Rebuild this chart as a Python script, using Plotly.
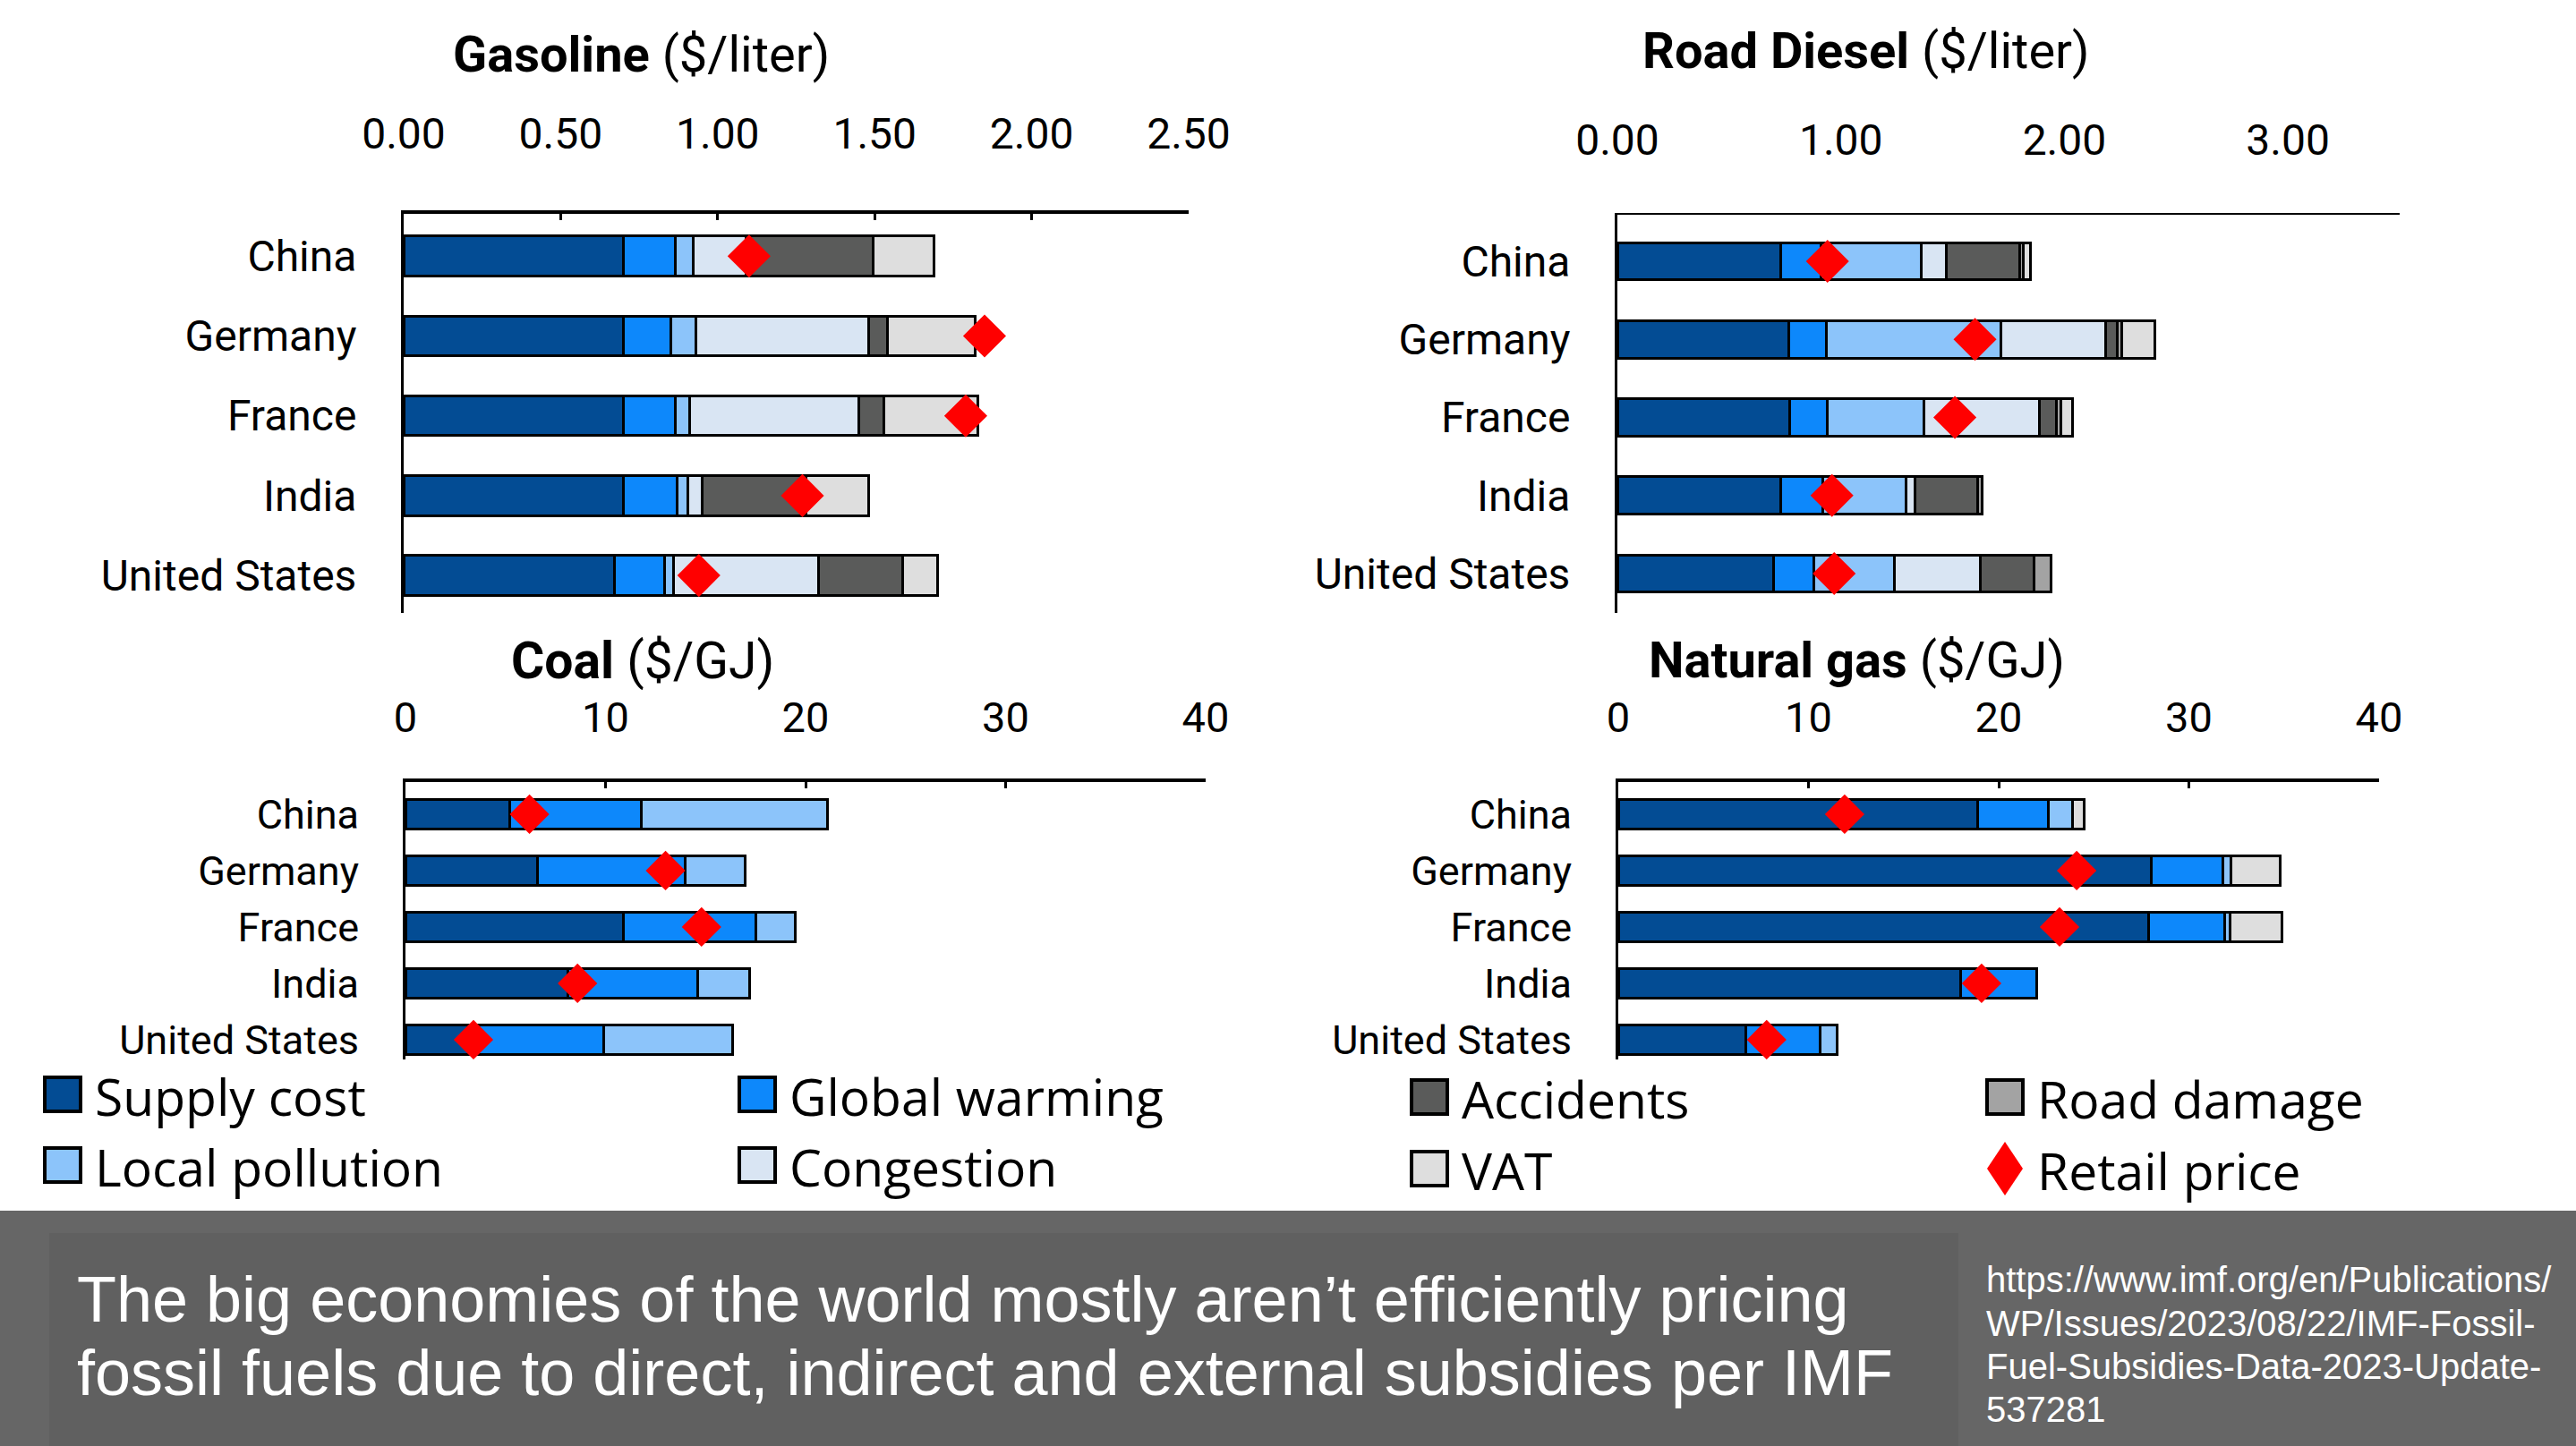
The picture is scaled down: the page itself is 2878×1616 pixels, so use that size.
import plotly.graph_objects as go

W, H = 2878, 1616

countries = ["China", "Germany", "France", "India", "United States"]
component_names = ["Supply cost", "Global warming", "Local pollution", "Congestion",
                   "Accidents", "Road damage", "VAT"]
component_colors = ["#034C94", "#0D88FB", "#8CC4FA", "#D9E5F3", "#5A5B5A", "#A3A3A3", "#DEDEDE"]

# ---- Gasoline ($/liter) ----
gasoline_supply = [0.70, 0.70, 0.70, 0.70, 0.67]
gasoline_warming = [0.165, 0.15, 0.165, 0.17, 0.16]
gasoline_pollution = [0.057, 0.08, 0.045, 0.035, 0.03]
gasoline_congestion = [0.168, 0.55, 0.54, 0.045, 0.46]
gasoline_accidents = [0.405, 0.06, 0.08, 0.33, 0.27]
gasoline_road = [0, 0, 0, 0, 0]
gasoline_vat = [0.193, 0.28, 0.30, 0.20, 0.11]
gasoline_retail = [1.10, 1.85, 1.79, 1.27, 0.94]

# ---- Road diesel ($/liter) ----
diesel_supply = [0.73, 0.765, 0.77, 0.73, 0.70]
diesel_warming = [0.18, 0.17, 0.17, 0.19, 0.18]
diesel_pollution = [0.45, 0.78, 0.43, 0.37, 0.36]
diesel_congestion = [0.11, 0.47, 0.52, 0.04, 0.385]
diesel_accidents = [0.33, 0.05, 0.075, 0.28, 0.24]
diesel_road = [0.015, 0.02, 0.02, 0.02, 0.075]
diesel_vat = [0.035, 0.15, 0.05, 0, 0]
diesel_retail = [0.94, 1.60, 1.51, 0.96, 0.97]

# ---- Coal ($/GJ) ----
coal_supply = [5.2, 6.6, 10.9, 8.1, 3.3]
coal_warming = [6.6, 7.4, 6.6, 6.5, 6.6]
coal_pollution = [9.3, 3.0, 2.0, 2.6, 6.45]
coal_retail = [6.2, 13.0, 14.8, 8.6, 3.4]

# ---- Natural gas ($/GJ) ----
gas_supply = [18.9, 28.0, 27.9, 18.0, 6.7]
gas_warming = [3.7, 3.8, 4.0, 4.0, 3.9]
gas_pollution = [1.3, 0.4, 0.25, 0, 0.9]
gas_vat = [0.6, 2.6, 2.75, 0, 0]
gas_retail = [11.9, 24.1, 23.2, 19.1, 7.8]

gasoline_tick_labels = ["0.00", "0.50", "1.00", "1.50", "2.00", "2.50"]
diesel_tick_labels = ["0.00", "1.00", "2.00", "3.00"]
energy_tick_labels = ["0", "10", "20", "30", "40"]

NARROW = "Roboto, Liberation Sans, sans-serif"
LEGEND_FONT = "Open Sans, Noto Sans, sans-serif"


def fx(p):
    return p / W


def fy(p):
    return 1 - p / H


panels = [
    dict(key="1", title="<b>Gasoline</b> ($/liter)", tcx=716, tcy=61, tsize=56,
         xdom=(451, 1328), ydom=(239, 685), xrange=[0, 2.5],
         tickvals=[0, 0.5, 1, 1.5, 2, 2.5], ticktext=gasoline_tick_labels,
         yrange=[4.47, -0.53], linew=4, ticks="inside", bw=0.5, tsz=48, lsz=48,
         comps=[gasoline_supply, gasoline_warming, gasoline_pollution, gasoline_congestion,
                gasoline_accidents, gasoline_road, gasoline_vat],
         retail=gasoline_retail, dsize=37, xstand=50),
    dict(key="2", title="<b>Road Diesel</b> ($/liter)", tcx=2085, tcy=57, tsize=56,
         xdom=(1807, 2681), ydom=(240, 685), xrange=[0, 3.5],
         tickvals=[0, 1, 2, 3], ticktext=diesel_tick_labels,
         yrange=[4.504, -0.596], linew=2, ticks="", bw=0.48, tsz=48, lsz=48,
         comps=[diesel_supply, diesel_warming, diesel_pollution, diesel_congestion,
                diesel_accidents, diesel_road, diesel_vat],
         retail=diesel_retail, dsize=37, xstand=46),
    dict(key="3", title="<b>Coal</b> ($/GJ)", tcx=718, tcy=738, tsize=57,
         xdom=(453, 1347), ydom=(874, 1184), xrange=[0, 40],
         tickvals=[0, 10, 20, 30, 40], ticktext=energy_tick_labels,
         yrange=[4.35, -0.57], linew=4, ticks="inside", bw=0.53, tsz=47, lsz=45,
         comps=[coal_supply, coal_warming, coal_pollution],
         retail=coal_retail, dsize=34, xstand=33),
    dict(key="4", title="<b>Natural gas</b> ($/GJ)", tcx=2074, tcy=738, tsize=56,
         xdom=(1808, 2658), ydom=(874, 1184), xrange=[0, 40],
         tickvals=[0, 10, 20, 30, 40], ticktext=energy_tick_labels,
         yrange=[4.35, -0.57], linew=4, ticks="inside", bw=0.53, tsz=47, lsz=45,
         comps=[gas_supply, gas_warming, gas_pollution, gas_vat],
         retail=gas_retail, dsize=34, xstand=33),
]

comp_index_for_panel = {
    "1": [0, 1, 2, 3, 4, 5, 6],
    "2": [0, 1, 2, 3, 4, 5, 6],
    "3": [0, 1, 2],
    "4": [0, 1, 2, 6],
}

fig = go.Figure()
layout = dict(
    width=W, height=H,
    margin=dict(l=0, r=0, t=0, b=0, autoexpand=False),
    paper_bgcolor="white", plot_bgcolor="rgba(0,0,0,0)",
    barmode="stack", showlegend=False,
    font=dict(family=NARROW, color="black"),
)
annotations = []
shapes = []

for p in panels:
    k = p["key"]
    xa = "x" if k == "1" else "x" + k
    ya = "y" if k == "1" else "y" + k
    for ci, vals in zip(comp_index_for_panel[k], p["comps"]):
        fig.add_trace(go.Bar(
            y=countries, x=vals, orientation="h", name=component_names[ci],
            marker=dict(color=component_colors[ci], line=dict(color="black", width=3)),
            width=p["bw"], xaxis=xa, yaxis=ya, hoverinfo="x+y+name",
        ))
    fig.add_trace(go.Scatter(
        y=countries, x=p["retail"], mode="markers", name="Retail price",
        marker=dict(symbol="diamond", size=p["dsize"], color="#FF0000", line=dict(width=0)),
        xaxis=xa, yaxis=ya,
    ))
    xname = "xaxis" if k == "1" else "xaxis" + k
    yname = "yaxis" if k == "1" else "yaxis" + k
    layout[xname] = dict(
        domain=[fx(p["xdom"][0]), fx(p["xdom"][1])], range=p["xrange"],
        anchor=ya, side="top", showgrid=False, zeroline=False, automargin=False,
        showline=True, linecolor="black", linewidth=p["linew"],
        ticks=p["ticks"], ticklen=7, tickwidth=3, tickcolor="black",
        tickmode="array", tickvals=p["tickvals"], ticktext=p["ticktext"],
        tickfont=dict(family=NARROW, size=p["tsz"], color="black"),
        ticklabelstandoff=p["xstand"], fixedrange=True,
    )
    layout[yname] = dict(
        domain=[fy(p["ydom"][1]), fy(p["ydom"][0])], range=p["yrange"],
        anchor=xa, type="category", categoryorder="array", categoryarray=countries,
        showgrid=False, zeroline=False, showline=True, linecolor="black", linewidth=3,
        automargin=False,
        ticks="", tickfont=dict(family=NARROW, size=p["lsz"], color="black"),
        ticklabelstandoff=40, fixedrange=True,
    )
    annotations.append(dict(
        text=p["title"], x=fx(p["tcx"]), y=fy(p["tcy"]), xref="paper", yref="paper",
        xanchor="center", yanchor="middle", showarrow=False,
        font=dict(family=NARROW, size=p["tsize"], color="black"),
    ))

# ---- manual legend ----
legend_items = [
    ("Supply cost", component_colors[0], 50, 1223),
    ("Local pollution", component_colors[2], 50, 1302),
    ("Global warming", component_colors[1], 826, 1223),
    ("Congestion", component_colors[3], 826, 1302),
    ("Accidents", component_colors[4], 1577, 1226),
    ("VAT", component_colors[6], 1577, 1306),
    ("Road damage", component_colors[5], 2220, 1226),
]
for name, col, x0, yc in legend_items:
    shapes.append(dict(type="rect", xref="paper", yref="paper",
                       x0=fx(x0), x1=fx(x0 + 40), y0=fy(yc + 19), y1=fy(yc - 19),
                       fillcolor=col, line=dict(color="black", width=4)))
    annotations.append(dict(text=name, x=fx(x0 + 54), y=fy(yc + 2), xref="paper", yref="paper",
                            xanchor="left", yanchor="middle", showarrow=False,
                            font=dict(family=LEGEND_FONT, size=57, color="black")))
# retail price legend (diamond)
dcx, dcy = 2240, 1306
shapes.append(dict(type="path", xref="paper", yref="paper",
                   path="M {a},{b} L {c},{d} L {a},{e} L {f},{d} Z".format(
                       a=fx(dcx), b=fy(dcy - 30), c=fx(dcx + 20), d=fy(dcy), e=fy(dcy + 30), f=fx(dcx - 20)),
                   fillcolor="#FF0000", line=dict(width=0)))
annotations.append(dict(text="Retail price", x=fx(2274), y=fy(1308), xref="paper", yref="paper",
                        xanchor="left", yanchor="middle", showarrow=False,
                        font=dict(family=LEGEND_FONT, size=57, color="black")))

# ---- bottom banner ----
shapes.append(dict(type="rect", xref="paper", yref="paper", layer="below",
                   x0=0, x1=1, y0=0, y1=fy(1353), fillcolor="#666666", line=dict(width=0)))
shapes.append(dict(type="rect", xref="paper", yref="paper", layer="below",
                   x0=fx(55), x1=fx(2188), y0=0, y1=fy(1378), fillcolor="#606060", line=dict(width=0)))
caption_lines = [
    "The big economies of the world mostly aren\u2019t efficiently pricing",
    "fossil fuels due to direct, indirect and external subsidies per IMF",
]
for line, yc in zip(caption_lines, [1452, 1534]):
    annotations.append(dict(text=line, x=fx(84), y=fy(yc), xref="paper", yref="paper",
                            xanchor="left", yanchor="middle", showarrow=False,
                            font=dict(family="Liberation Sans, Arial, sans-serif", size=72, color="white")))
source_lines = [
    "https://www.imf.org/en/Publications/",
    "WP/Issues/2023/08/22/IMF-Fossil-",
    "Fuel-Subsidies-Data-2023-Update-",
    "537281",
]
for line, yc in zip(source_lines, [1430, 1479, 1527, 1575]):
    annotations.append(dict(text=line, x=fx(2217), y=fy(yc), xref="paper", yref="paper",
                            xanchor="left", yanchor="middle", showarrow=False,
                            font=dict(family="Liberation Sans, Arial, sans-serif", size=40, color="white")))

layout["annotations"] = annotations
layout["shapes"] = shapes
fig.update_layout(**layout)
fig.write_html(
    "out.html",
    config={"displayModeBar": False},
    post_script="document.body.style.margin='0';document.body.style.overflow='hidden';",
)
